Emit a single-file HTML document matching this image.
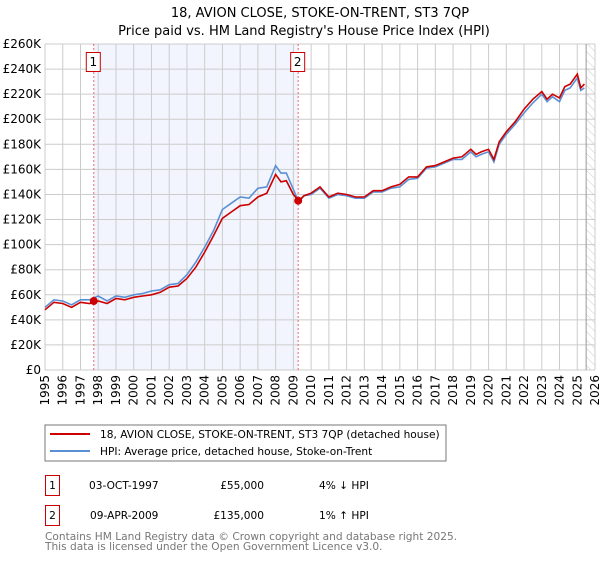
<!DOCTYPE html>
<html><head><meta charset="utf-8"><style>
body{margin:0;background:#fff;font-family:"DejaVu Sans","Liberation Sans",sans-serif;}
svg text{font-family:"DejaVu Sans","Liberation Sans",sans-serif;}
</style></head><body>
<svg id="chart" width="600" height="560" viewBox="0 0 600 560" xmlns="http://www.w3.org/2000/svg">
<defs><pattern id="hatch" width="6" height="6" patternUnits="userSpaceOnUse" patternTransform="rotate(-45)"><line x1="0" y1="0" x2="0" y2="6" stroke="#ccc" stroke-width="1"/></pattern></defs>
<text x="320" y="17" text-anchor="middle" font-size="13">18, AVION CLOSE, STOKE-ON-TRENT, ST3 7QP</text>
<text x="304" y="35" text-anchor="middle" font-size="13">Price paid vs. HM Land Registry's House Price Index (HPI)</text>
<g id="grid"></g><g id="series"></g><g id="marks"></g>
<rect x="45" y="425" width="401" height="36" fill="#fff" stroke="#777"/>
<line x1="50" y1="434" x2="90" y2="434" stroke="#cc0000" stroke-width="2"/>
<text x="100" y="438" font-size="10.6">18, AVION CLOSE, STOKE-ON-TRENT, ST3 7QP (detached house)</text>
<line x1="50" y1="451" x2="90" y2="451" stroke="#5b8fd4" stroke-width="2"/>
<text x="100" y="455" font-size="10.6">HPI: Average price, detached house, Stoke-on-Trent</text>
<g font-size="10.6">
<rect x="45.5" y="475.5" width="14" height="20" fill="none" stroke="#cc0000"/>
<text x="52.5" y="489" text-anchor="middle">1</text>
<text x="89" y="489">03-OCT-1997</text>
<text x="264" y="489" text-anchor="end">£55,000</text>
<text x="319" y="489">4% ↓ HPI</text>
<rect x="45.5" y="505.5" width="14" height="20" fill="none" stroke="#cc0000"/>
<text x="52.5" y="519" text-anchor="middle">2</text>
<text x="90" y="519">09-APR-2009</text>
<text x="264" y="519" text-anchor="end">£135,000</text>
<text x="319" y="519">1% ↑ HPI</text>
</g>
<text x="45" y="540" font-size="10.6" fill="#777">Contains HM Land Registry data © Crown copyright and database right 2025.</text>
<text x="45" y="550" font-size="10.6" fill="#777">This data is licensed under the Open Government Licence v3.0.</text>
</svg>
<script>
const years=[1995,1996,1997,1998,1999,2000,2001,2002,2003,2004,2005,2006,2007,2008,2009,2010,2011,2012,2013,2014,2015,2016,2017,2018,2019,2020,2021,2022,2023,2024,2025,2026];
const yTicks=[0,20,40,60,80,100,120,140,160,180,200,220,240,260];
const hpiT=[1995.0,1995.5,1996.0,1996.5,1997.0,1997.5,1998.0,1998.5,1999.0,1999.5,2000.0,2000.5,2001.0,2001.5,2002.0,2002.5,2003.0,2003.5,2004.0,2004.5,2005.0,2005.5,2006.0,2006.5,2007.0,2007.5,2008.0,2008.3,2008.6,2009.0,2009.3,2009.6,2010.0,2010.5,2011.0,2011.5,2012.0,2012.5,2013.0,2013.5,2014.0,2014.5,2015.0,2015.5,2016.0,2016.5,2017.0,2017.5,2018.0,2018.5,2019.0,2019.3,2019.6,2020.0,2020.3,2020.6,2021.0,2021.5,2022.0,2022.5,2023.0,2023.3,2023.6,2024.0,2024.3,2024.6,2025.0,2025.2,2025.4];
const hpiV=[50,56,55,52,56,56,59,55,59,58,60,61,63,64,68,69,76,86,98,111,128,133,138,137,145,146,163,157,157,144,134,139,140,145,137,140,139,137,137,142,142,145,146,152,153,161,162,165,168,168,174,170,172,174,166,180,188,196,205,213,220,214,218,214,223,225,233,223,225];
const ppV=[48,54,53,50,54,53,55,53,57,56,58,59,60,62,66,67,73,82,94,107,121,126,131,132,138,141,156,150,151,140,135,139,141,146,138,141,140,138,138,143,143,146,148,154,154,162,163,166,169,170,176,172,174,176,168,182,190,198,208,216,222,216,220,217,226,228,236,225,228];
const sales=[[1997.75,55],[2009.27,135]];
const X0=45,X1=595,Y0=370,Y1=44;
const xs=t=>X0+(t-1995)*(X1-X0)/31;
const ys=v=>Y0-v*(Y0-Y1)/260;
const NS="http://www.w3.org/2000/svg";
function mk(p,tag,a){const e=document.createElementNS(NS,tag);for(const k in a)e.setAttribute(k,a[k]);p.appendChild(e);return e;}
const g=document.getElementById('grid');
mk(g,'rect',{x:xs(1997.75),y:Y1,width:xs(2009.27)-xs(1997.75),height:Y0-Y1,fill:'#f2f5fd'});
const h=mk(g,'rect',{x:xs(2025.5),y:Y1,width:X1-xs(2025.5),height:Y0-Y1,fill:'url(#hatch)'});


yTicks.forEach(v=>{mk(g,'line',{x1:X0,x2:X1,y1:ys(v),y2:ys(v),stroke:'#ccc'});
const t=mk(g,'text',{x:X0-4,y:ys(v)+4,'text-anchor':'end','font-size':12});t.textContent='£'+(v?v+'K':'0');

});
years.forEach(y=>{mk(g,'line',{x1:xs(y),x2:xs(y),y1:Y1,y2:Y0,stroke:'#ccc'});
const t=mk(g,'text',{x:0,y:0,'text-anchor':'end','font-size':12,transform:`translate(${xs(y)+4},375) rotate(-90)`});t.textContent=y;

});
mk(g,'line',{x1:xs(2025.5),x2:xs(2025.5),y1:Y1,y2:Y0,stroke:'#999'});
const s=document.getElementById('series');
const path=v=>v.map((val,i)=>(i?'L':'M')+xs(hpiT[i]).toFixed(1)+','+ys(val).toFixed(1)).join('');
const hl=mk(s,'path',{d:path(hpiV),fill:'none',stroke:'#5b8fd4','stroke-width':1.6});


const pl=mk(s,'path',{d:path(ppV),fill:'none',stroke:'#cc0000','stroke-width':1.6});


const m=document.getElementById('marks');
sales.forEach((d,i)=>{
const l=mk(m,'line',{x1:xs(d[0]),x2:xs(d[0]),y1:Y1,y2:Y0,stroke:'#e66','stroke-dasharray':'2,2'});


const c=mk(m,'circle',{cx:xs(d[0]),cy:ys(d[1]),r:4,fill:'#cc0000'});


const b=mk(m,'rect',{x:xs(d[0])-7.5,y:52.5,width:14,height:19,fill:'#fff',stroke:'#cc0000'});


const t=mk(m,'text',{x:xs(d[0])-0.5,y:66,'text-anchor':'middle','font-size':12});t.textContent=i+1;


});
</script>
</body></html>
